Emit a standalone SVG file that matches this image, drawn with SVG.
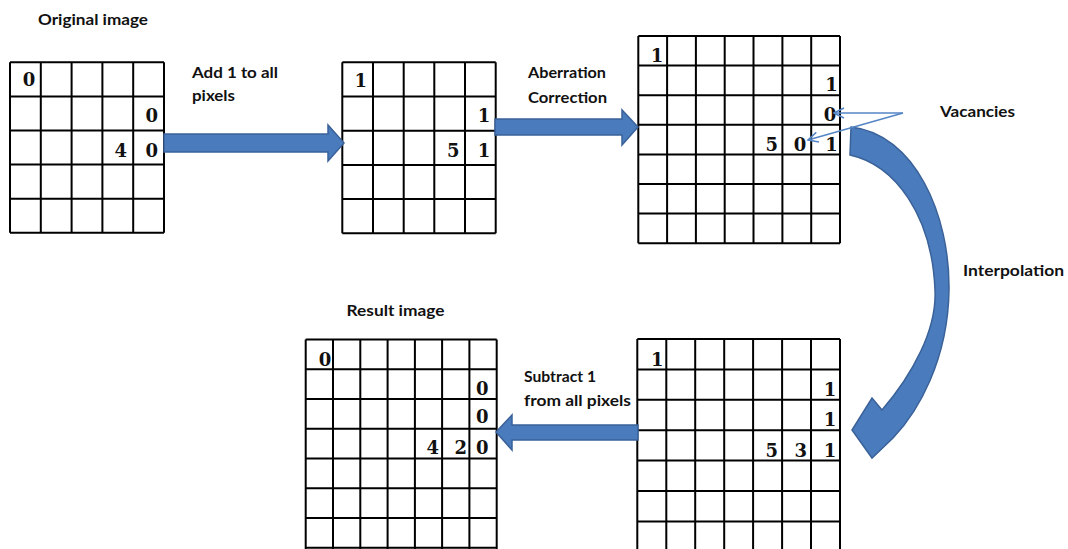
<svg xmlns="http://www.w3.org/2000/svg" width="1068" height="549" viewBox="0 0 1068 549">
<style>
.g{fill:none;stroke:#000;stroke-width:2}
.d{font-family:"DejaVu Serif",serif;font-weight:bold;font-size:18px;fill:#111;text-anchor:middle}
.l{font-family:Lato,"Liberation Sans",sans-serif;font-weight:bold;font-size:15px;fill:#111}
.ar{fill:#4a7bbc;stroke:#3a6299;stroke-width:1.5;stroke-linejoin:miter}
.thin{fill:none;stroke:#5585c4;stroke-width:1.6}
</style>
<defs>
<marker id="open" viewBox="0 0 12 12" refX="11" refY="6" markerWidth="12" markerHeight="12" markerUnits="userSpaceOnUse" orient="auto">
<path d="M1,1 L11,6 L1,11" fill="none" stroke="#5585c4" stroke-width="1.6"/>
</marker>
</defs>
<rect width="1068" height="549" fill="#fff"/>

<g id="original">
<path class="g" d="M10,62.3H164M10,96.4H164M10,130.5H164M10,164.6H164M10,198.7H164M10,232.8H164M10,62.3V232.8M40.8,62.3V232.8M71.6,62.3V232.8M102.4,62.3V232.8M133.2,62.3V232.8M164,62.3V232.8"/>
<text class="d" x="29" y="85.5">0</text>
<text class="d" x="151.7" y="122">0</text>
<text class="d" x="120.7" y="156.5">4</text>
<text class="d" x="151.7" y="156.5">0</text>
</g>

<g id="plus1">
<path class="g" d="M342.3,62.3H495.7M342.3,96.5H495.7M342.3,130.7H495.7M342.3,164.9H495.7M342.3,199.1H495.7M342.3,233.3H495.7M342.3,62.3V233.3M373,62.3V233.3M403.7,62.3V233.3M434.3,62.3V233.3M465,62.3V233.3M495.7,62.3V233.3"/>
<text class="d" x="360.7" y="86.5">1</text>
<text class="d" x="484" y="122">1</text>
<text class="d" x="453.3" y="157">5</text>
<text class="d" x="484" y="157">1</text>
</g>

<g id="corrected">
<path class="g" d="M638.3,36H840M638.3,65.6H840M638.3,95.2H840M638.3,124.8H840M638.3,154.4H840M638.3,184H840M638.3,213.6H840M638.3,243.2H840M638.3,36V243.2M667.1,36V243.2M695.9,36V243.2M724.7,36V243.2M753.5,36V243.2M782.4,36V243.2M811.2,36V243.2M840,36V243.2"/>
<text class="d" x="657" y="61.5">1</text>
<text class="d" x="831.5" y="90.5">1</text>
<text class="d" x="830" y="120.5">0</text>
<text class="d" x="771.7" y="150.5">5</text>
<text class="d" x="800" y="150.5">0</text>
<text class="d" x="831.5" y="150.5">1</text>
</g>

<g id="interpolated">
<path class="g" d="M637.3,339H840M637.3,369.4H840M637.3,399.8H840M637.3,430.2H840M637.3,460.6H840M637.3,491H840M637.3,521.4H840M637.3,339V552M666.3,339V552M695.2,339V552M724.2,339V552M753.1,339V552M782.1,339V552M811,339V552M840,339V552"/>
<text class="d" x="657.3" y="366">1</text>
<text class="d" x="830" y="395.5">1</text>
<text class="d" x="830" y="425.5">1</text>
<text class="d" x="771.7" y="456.5">5</text>
<text class="d" x="800.7" y="456.5">3</text>
<text class="d" x="830" y="456.5">1</text>
</g>

<g id="result">
<path class="g" d="M305.7,339.5H496.7M305.7,369.3H496.7M305.7,399H496.7M305.7,428.8H496.7M305.7,458.5H496.7M305.7,488.3H496.7M305.7,518H496.7M305.7,547.8H496.7M305.7,339.5V549M333,339.5V549M360.3,339.5V549M387.6,339.5V549M414.9,339.5V549M442.1,339.5V549M469.4,339.5V549M496.7,339.5V549"/>
<text class="d" x="325" y="365.5">0</text>
<text class="d" x="482.3" y="394.5">0</text>
<text class="d" x="482.3" y="422.5">0</text>
<text class="d" x="432.7" y="454">4</text>
<text class="d" x="460.7" y="454">2</text>
<text class="d" x="482.3" y="454">0</text>
</g>

<g id="labels">
<text class="l" x="38" y="25" textLength="110" lengthAdjust="spacingAndGlyphs">Original image</text>
<text class="l" x="346.5" y="316" textLength="98" lengthAdjust="spacingAndGlyphs">Result image</text>
<text class="l" x="940" y="117" textLength="75" lengthAdjust="spacingAndGlyphs">Vacancies</text>
<text class="l" x="963" y="276" textLength="101" lengthAdjust="spacingAndGlyphs">Interpolation</text>
</g>

<g id="connectors">
<polygon class="ar" points="164,134 328,134 328,125 344,143 328,161 328,152 164,152"/>
<text class="l" x="192" y="78" textLength="86" lengthAdjust="spacingAndGlyphs">Add 1 to all</text>
<text class="l" x="192" y="101" textLength="43" lengthAdjust="spacingAndGlyphs">pixels</text>

<polygon class="ar" points="495,119 622,119 622,110 638,127 622,145 622,135 495,135"/>
<text class="l" x="528" y="78" textLength="78" lengthAdjust="spacingAndGlyphs">Aberration</text>
<text class="l" x="528" y="103" textLength="79" lengthAdjust="spacingAndGlyphs">Correction</text>

<path class="ar" d="M851,127 C915,134 950,215 949,290 C948,360 918,412 893,438 L872,458 L852,430 L872,398 L882,410 C912,375 937,330 935,290 C932,215 895,165 850,155 Z"/>

<polygon class="ar" points="638,425 512,425 512,415 496,432 512,450 512,440 638,440"/>
<text class="l" x="524" y="382" textLength="72" lengthAdjust="spacingAndGlyphs">Subtract 1</text>
<text class="l" x="524" y="406" textLength="107" lengthAdjust="spacingAndGlyphs">from all pixels</text>

<line class="thin" x1="903" y1="113" x2="834" y2="113" marker-end="url(#open)"/>
<line class="thin" x1="903" y1="113" x2="808" y2="140" marker-end="url(#open)"/>
</g>
</svg>
